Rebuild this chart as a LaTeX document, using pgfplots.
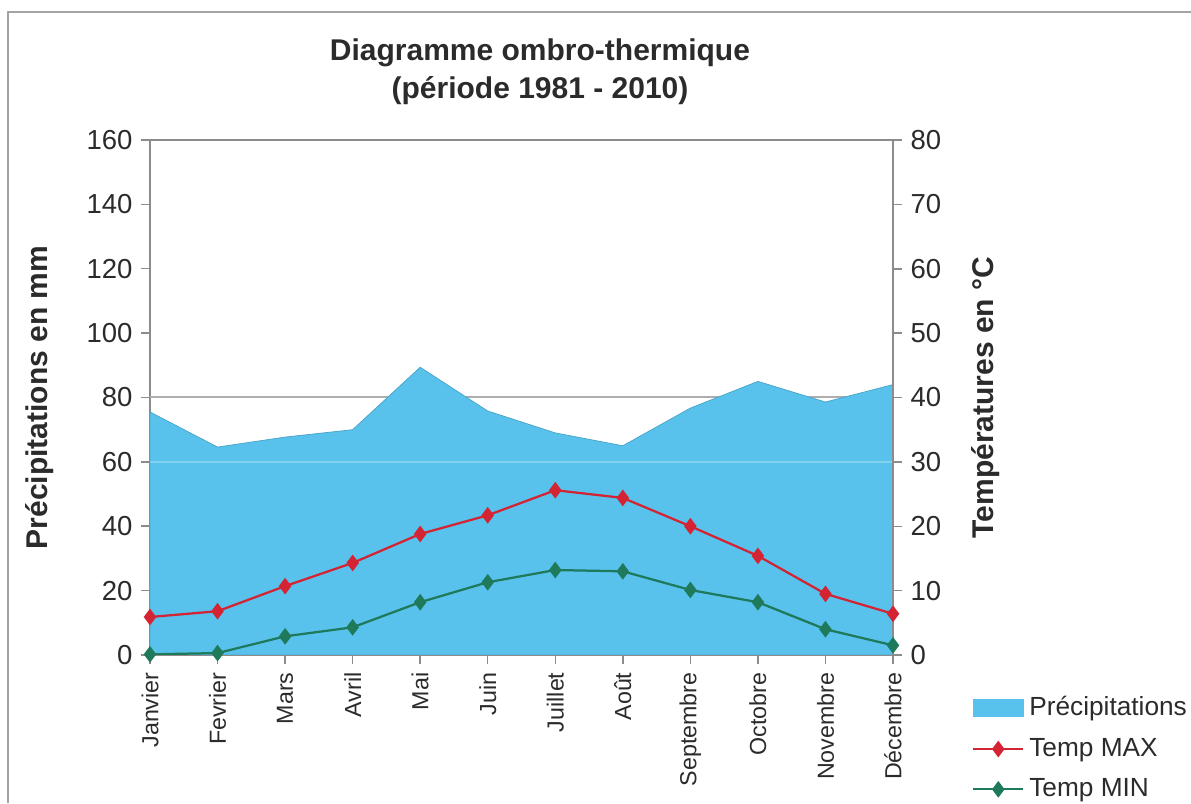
\documentclass[border=0pt]{standalone}
\usepackage{fontspec}
\setmainfont{Liberation Sans}
\usepackage{pgfplots}
\usepackage{pgfplotstable}
\pgfplotsset{compat=1.18}

\definecolor{pluie}{HTML}{58C2EC}
\definecolor{tmax}{HTML}{D42332}
\definecolor{tmin}{HTML}{1F7A5C}
\definecolor{txt}{HTML}{2B2B2B}
\definecolor{axisgrey}{HTML}{8C8C8C}

% mois 0..11, precipitations (mm), temperatures (degres)
\pgfplotstableread{
m  P     Tmax  Tmin
0  75.5  5.9   0.1
1  64.6  6.8   0.3
2  67.7  10.7  2.9
3  70.0  14.3  4.3
4  89.4  18.8  8.2
5  75.8  21.7  11.3
6  69.0  25.6  13.2
7  65.0  24.4  13.0
8  76.7  20.0  10.1
9  85.0  15.4  8.2
10 78.6  9.5   4.0
11 84.0  6.4   1.5
}\climat

\pgfplotsset{
  common/.style={
    at={(60pt,59.2pt)}, anchor=south west,
    scale only axis, width=297.2pt, height=206pt,
    xmin=0, xmax=11,
    tick align=outside, major tick length=3.5pt,
    tick style={axisgrey, line width=0.6pt},
    /pgf/number format/assume math mode=true,
    yticklabel style={font=\fontsize{11}{13}\selectfont, text=txt},
    ylabel style={font=\bfseries\fontsize{12}{14}\selectfont, text=txt},
  },
  lignelegende/.style={legend image code/.code={
    \draw[mark repeat=2, mark phase=2] plot coordinates {(0cm,0cm) (0.35cm,0cm) (0.7cm,0cm)};}},
}

\begin{document}
\begin{tikzpicture}
\useasboundingbox (0pt,0pt) rectangle (476.4pt,321.2pt);
\draw[axisgrey!80, line width=0.9pt] (3.2pt,0pt) -- (3.2pt,316.4pt) -- (476.4pt,316.4pt);

\begin{axis}[common,
  ymin=0, ymax=160, ytick={0,20,...,160},
  xtick={0,...,11}, xtick pos=bottom, ytick pos=left,
  xticklabels={Janvier,Fevrier,Mars,Avril,Mai,Juin,Juillet,Août,Septembre,Octobre,Novembre,Décembre},
  x tick label style={rotate=90, anchor=east, font=\fontsize{9.3}{10}\selectfont, text=txt},
  axis line style={axisgrey, line width=0.7pt},
  extra y ticks={80}, extra y tick labels={},
  extra y tick style={grid=major, major grid style={axisgrey!70, line width=0.8pt}, major tick length=0pt},
  ylabel={Précipitations en mm},
  ylabel style={at={(axis description cs:-0.148,0.5)}, anchor=center},
]
\addplot[fill=pluie, draw=pluie!85!black, line width=0.3pt] table[x=m, y=P] {\climat} \closedcycle;
\draw[white, opacity=0.25, line width=1pt] (axis cs:0,60) -- (axis cs:11,60);
\end{axis}

\begin{axis}[common,
  ymin=0, ymax=80, ytick={0,10,...,80},
  axis x line=none, axis y line*=right,
  y axis line style={axisgrey, line width=0.7pt},
  ylabel={Températures en °C},
  ylabel style={at={(axis description cs:1.124,0.5)}, anchor=center},
  legend style={at={(axis description cs:1.106,-0.07)}, anchor=north west,
    draw=none, fill=none, font=\fontsize{10.5}{12}\selectfont, text=txt,
    row sep=3.4pt, inner sep=0pt},
  legend cell align=left,
]
\addlegendimage{legend image code/.code={\fill[pluie] (0cm,-0.125cm) rectangle (0.7cm,0.125cm);}}
\addlegendentry{Précipitations}
\addplot[tmax, line width=0.9pt, mark=diamond*, mark size=2.6pt, mark options={fill=tmax}, lignelegende] table[x=m, y=Tmax] {\climat};
\addlegendentry{Temp MAX}
\addplot[tmin, line width=0.9pt, mark=diamond*, mark size=2.6pt, mark options={fill=tmin}, lignelegende] table[x=m, y=Tmin] {\climat};
\addlegendentry{Temp MIN}
\end{axis}

\node[font=\bfseries\fontsize{12}{15}\selectfont, text=txt, align=center] at (216pt,292.4pt) {Diagramme ombro-thermique\\(période 1981 - 2010)};
\end{tikzpicture}
\end{document}
